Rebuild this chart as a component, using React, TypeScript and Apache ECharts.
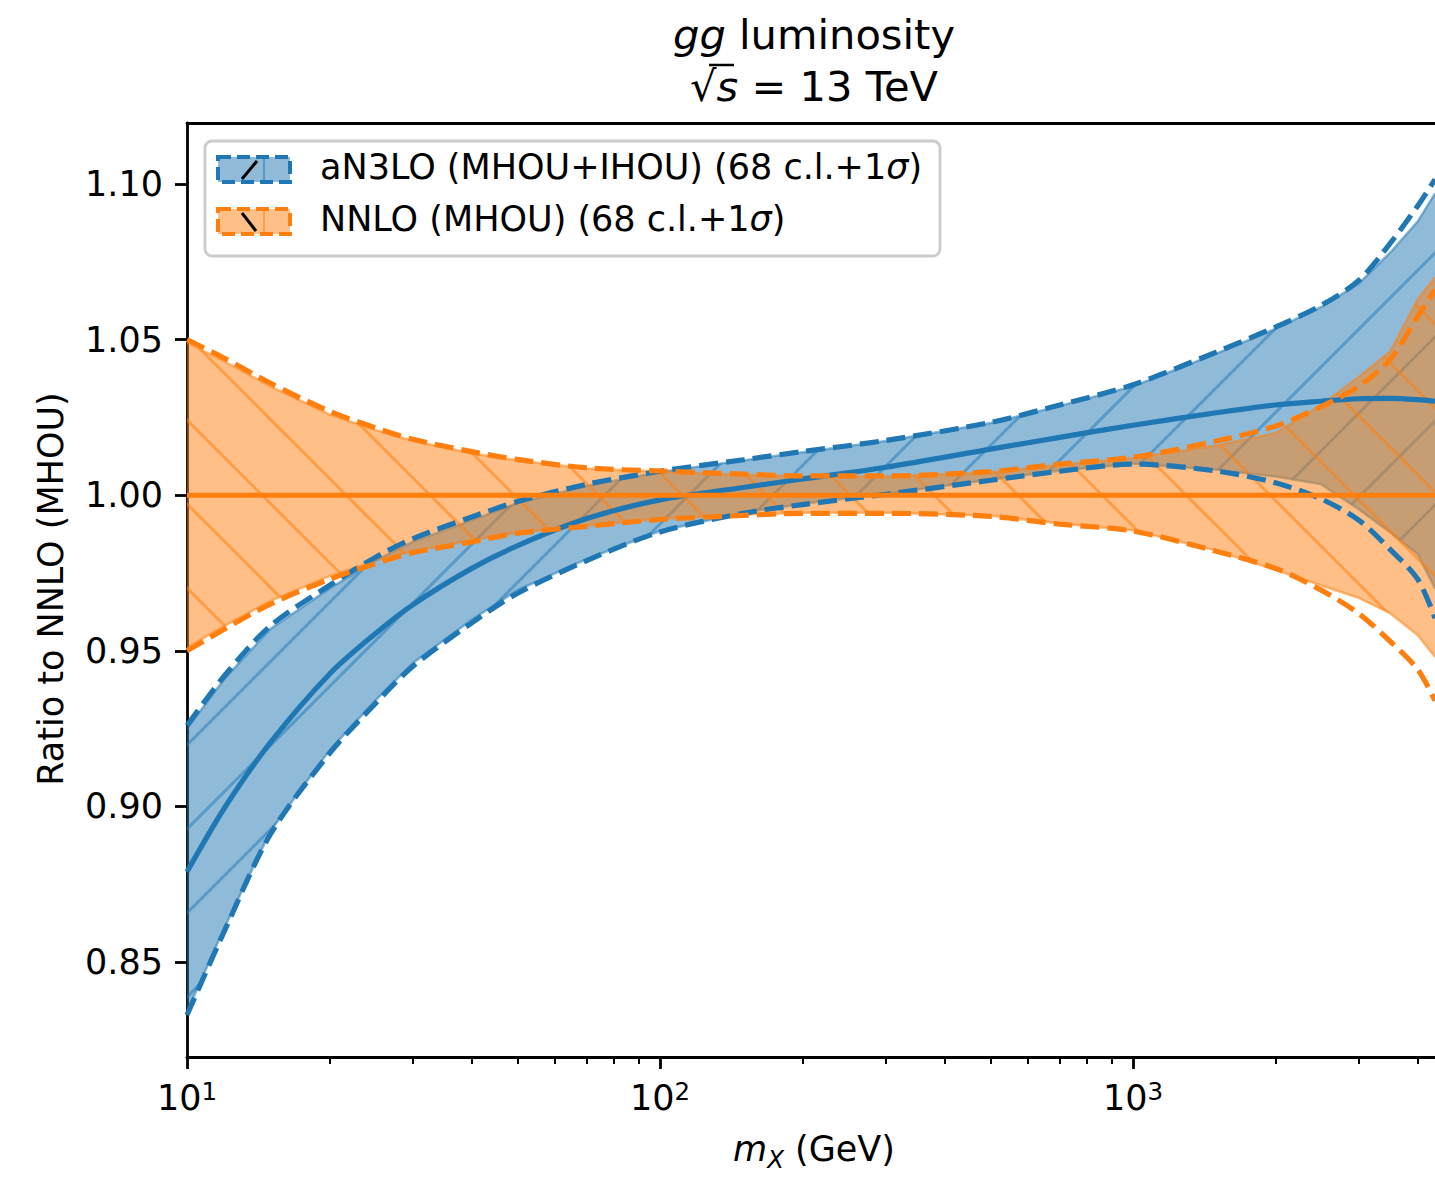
import React, { useEffect, useRef } from "react";
import * as echarts from "echarts";

const FONT = "DejaVu Sans";
const BLUE = "#1f77b4";
const ORANGE = "#ff7f0e";

// ---- data ----
const massGeV = [10, 12, 15, 20, 25, 30, 40, 50, 70, 100, 150, 200, 300, 500, 700, 1000, 1500, 2000, 2500, 3000, 3500, 4000, 4350];

const an3loCentral = [0.879, 0.8995, 0.9205, 0.9425, 0.9555, 0.9648, 0.9765, 0.9838, 0.9925, 0.9985, 1.0025, 1.0052, 1.009, 1.0148, 1.0186, 1.0225, 1.0265, 1.029, 1.0302, 1.031, 1.0311, 1.0307, 1.0302];
const an3loUpper = [0.926, 0.942, 0.958, 0.971, 0.98, 0.986, 0.993, 0.998, 1.0035, 1.0077, 1.0114, 1.014, 1.0176, 1.0234, 1.029, 1.0355, 1.046, 1.054, 1.061, 1.069, 1.081, 1.093, 1.1015];
const an3loLower = [0.833, 0.86, 0.891, 0.917, 0.933, 0.945, 0.959, 0.9685, 0.979, 0.9882, 0.9942, 0.997, 1.0003, 1.0048, 1.0077, 1.01, 1.0078, 1.004, 0.9988, 0.992, 0.9825, 0.973, 0.9605];
const an3loBandUpper = [0.925, 0.941, 0.957, 0.97, 0.979, 0.985, 0.992, 0.9975, 1.003, 1.0075, 1.0112, 1.0138, 1.0174, 1.0232, 1.0287, 1.035, 1.0455, 1.0535, 1.0605, 1.068, 1.078, 1.088, 1.097];
const an3loBandLower = [0.834, 0.861, 0.892, 0.918, 0.934, 0.946, 0.96, 0.9695, 0.9795, 0.9885, 0.9944, 0.9972, 1.0005, 1.005, 1.0079, 1.0101, 1.0082, 1.006, 1.0035, 0.9955, 0.988, 0.981, 0.97];

const nnloCentral = [1, 1, 1, 1, 1, 1, 1, 1, 1, 1, 1, 1, 1, 1, 1, 1, 1, 1, 1, 1, 1, 1, 1];
const nnloUpper = [1.05, 1.044, 1.036, 1.027, 1.0217, 1.018, 1.014, 1.0115, 1.0088, 1.0078, 1.0068, 1.0062, 1.0062, 1.0076, 1.01, 1.0122, 1.0174, 1.0222, 1.0285, 1.035, 1.0437, 1.0575, 1.066];
const nnloLower = [0.95, 0.957, 0.965, 0.973, 0.978, 0.9815, 0.985, 0.9878, 0.99, 0.9922, 0.9935, 0.9942, 0.9942, 0.9932, 0.9907, 0.9885, 0.982, 0.9765, 0.9695, 0.962, 0.953, 0.944, 0.934];
const nnloBandUpper = [1.049, 1.043, 1.035, 1.026, 1.021, 1.0175, 1.0135, 1.0112, 1.0086, 1.0076, 1.0066, 1.006, 1.006, 1.0074, 1.0098, 1.012, 1.016, 1.02, 1.029, 1.038, 1.0463, 1.063, 1.07];
const nnloBandLower = [0.951, 0.958, 0.966, 0.974, 0.979, 0.982, 0.9855, 0.988, 0.9902, 0.9924, 0.9937, 0.9944, 0.9944, 0.9934, 0.9909, 0.9887, 0.9822, 0.976, 0.971, 0.967, 0.962, 0.955, 0.948];

const xMajorTicks = [10, 100, 1000];
const xMinorTicks = [20, 30, 40, 50, 60, 70, 80, 90, 200, 300, 400, 500, 600, 700, 800, 900, 2000, 3000, 4000];
const yTicks = [0.85, 0.9, 0.95, 1.0, 1.05, 1.1];

const legendLabels = ["aN3LO (MHOU+IHOU) (68 c.l.+1{i|σ})", "NNLO (MHOU) (68 c.l.+1{i|σ})"];

const X_MIN = 10;
const X_MAX = 4350;
const Y_MIN = 0.8195;
const Y_MAX = 1.1196;
const HATCH_STEP = 84;

function makeHatch(dir: "fwd" | "back", color: string, phase: number): string {
  const s = HATCH_STEP;
  const cv = document.createElement("canvas");
  cv.width = s;
  cv.height = s;
  const ctx = cv.getContext("2d");
  if (!ctx) return "";
  ctx.strokeStyle = color;
  ctx.lineWidth = 3;
  for (let k = -3; k <= 3; k++) {
    const c = phase + k * s;
    ctx.beginPath();
    if (dir === "fwd") {
      ctx.moveTo(c + s, -s);
      ctx.lineTo(c - 2 * s, 2 * s);
    } else {
      ctx.moveTo(-s, c - s);
      ctx.lineTo(2 * s, c + 2 * s);
    }
    ctx.stroke();
  }
  return cv.toDataURL();
}

function bandSeries(name: string, lo: number[], hi: number[], fill: string, edge: string, pattern: any, z: number) {
  return {
    type: "custom",
    name,
    coordinateSystem: "cartesian2d",
    xAxisIndex: 0,
    yAxisIndex: 0,
    clip: true,
    silent: true,
    z,
    data: massGeV.map((x, i) => [x, lo[i], hi[i]]),
    encode: { x: 0, y: [1, 2] },
    renderItem: (params: any, api: any) => {
      if (params.dataIndex !== 0) return null;
      const up = massGeV.map((x, i) => api.coord([x, hi[i]]));
      const dn = massGeV.map((x, i) => api.coord([x, lo[i]]));
      const poly = up.concat(dn.slice().reverse());
      return {
        type: "group",
        children: [
          { type: "polygon", shape: { points: poly }, style: { fill, stroke: null } },
          { type: "polygon", shape: { points: poly }, style: { fill: pattern, stroke: null } },
          { type: "polyline", shape: { points: up }, style: { stroke: edge, lineWidth: 2.5, fill: null } },
          { type: "polyline", shape: { points: dn }, style: { stroke: edge, lineWidth: 2.5, fill: null } },
        ],
      };
    },
  };
}

function lineSeries(name: string, ys: number[], color: string, dashed: boolean, z: number) {
  return {
    type: "line",
    name,
    data: massGeV.map((x, i) => [x, ys[i]]),
    showSymbol: false,
    symbol: "none",
    smooth: 0.3,
    clip: true,
    silent: true,
    z,
    lineStyle: { color, width: 5.2, type: dashed ? [19, 8] : "solid", cap: "butt" },
    emphasis: { disabled: true },
  };
}

export default function App() {
  const ref = useRef<HTMLDivElement>(null);
  useEffect(() => {
    if (!ref.current) return;
    const chart = echarts.init(ref.current, null, { renderer: "svg" });

    const blueHatch = {
      image: makeHatch("fwd", "rgba(31,119,180,0.5)", 8),
      repeat: "repeat",
      imageWidth: HATCH_STEP,
      imageHeight: HATCH_STEP,
    };
    const orangeHatch = {
      image: makeHatch("back", "rgba(255,127,14,0.55)", 65),
      repeat: "repeat",
      imageWidth: HATCH_STEP,
      imageHeight: HATCH_STEP,
    };

    const axisLineStyle = { color: "#000", width: 2.8 };
    const logAxisBase = { type: "log", logBase: 10, min: X_MIN, max: X_MAX, gridIndex: 0 };

    const txt = (extra: any) => ({ fontFamily: FONT, fill: "#000", ...extra });

    const option: any = {
      animation: false,
      backgroundColor: "#fff",
      textStyle: { fontFamily: FONT },
      grid: { left: 187, top: 123, right: 0, bottom: 121, containLabel: false, outerBoundsMode: "none", show: false },
      xAxis: [
        {
          ...logAxisBase,
          position: "bottom",
          axisLine: { show: true, onZero: false, lineStyle: axisLineStyle },
          axisTick: { show: true, inside: false, length: 12, customValues: xMajorTicks, lineStyle: axisLineStyle },
          axisLabel: {
            show: true,
            customValues: xMajorTicks,
            margin: 22,
            formatter: (v: number) => `{b|10}{s|${Math.round(Math.log10(v))}}`,
            rich: {
              b: { fontSize: 35, fontFamily: FONT, color: "#000" },
              s: { fontSize: 24.5, fontFamily: FONT, color: "#000", padding: [0, 0, 12, 0] },
            },
          },
          splitLine: { show: false },
          minorTick: { show: false },
          minorSplitLine: { show: false },
        },
        {
          ...logAxisBase,
          position: "top",
          axisLine: { show: true, onZero: false, lineStyle: axisLineStyle },
          axisTick: { show: false },
          axisLabel: { show: false },
          splitLine: { show: false },
        },
        {
          ...logAxisBase,
          position: "bottom",
          axisLine: { show: false, onZero: false },
          axisTick: { show: true, inside: false, length: 7, customValues: xMinorTicks, lineStyle: { color: "#000", width: 2 } },
          axisLabel: { show: false },
          splitLine: { show: false },
        },
      ],
      yAxis: {
        type: "value",
        min: Y_MIN,
        max: Y_MAX,
        position: "left",
        axisLine: { show: true, onZero: false, lineStyle: axisLineStyle },
        axisTick: { show: true, inside: false, length: 12, customValues: yTicks, lineStyle: axisLineStyle },
        axisLabel: {
          customValues: yTicks,
          formatter: (v: number) => v.toFixed(2),
          fontSize: 35,
          fontFamily: FONT,
          color: "#000",
          margin: 24,
        },
        splitLine: { show: false },
      },
      series: [
        bandSeries("aN3LO band", an3loBandLower, an3loBandUpper, "rgba(31,119,180,0.5)", "rgba(31,119,180,0.5)", blueHatch, 2),
        bandSeries("NNLO band", nnloBandLower, nnloBandUpper, "rgba(255,127,14,0.5)", "rgba(255,127,14,0.5)", orangeHatch, 3),
        lineSeries("aN3LO upper", an3loUpper, BLUE, true, 5),
        lineSeries("aN3LO lower", an3loLower, BLUE, true, 5),
        lineSeries("aN3LO central", an3loCentral, BLUE, false, 5),
        lineSeries("NNLO upper", nnloUpper, ORANGE, true, 6),
        lineSeries("NNLO lower", nnloLower, ORANGE, true, 6),
        lineSeries("NNLO central", nnloCentral, ORANGE, false, 6),
      ],
      graphic: [
        // title
        {
          type: "text",
          x: 814,
          y: 34,
          z: 100,
          style: txt({
            text: "{i|gg} luminosity",
            fontSize: 41.6,
            align: "center",
            verticalAlign: "middle",
            rich: { i: { fontStyle: "italic", fontSize: 41.6, fontFamily: FONT } },
          }),
        },
        {
          type: "text",
          x: 814,
          y: 86,
          z: 100,
          style: txt({
            text: "√{i|s} = 13 TeV",
            fontSize: 41.6,
            align: "center",
            verticalAlign: "middle",
            rich: { i: { fontStyle: "italic", fontSize: 41.6, fontFamily: FONT } },
          }),
        },
        { type: "line", z: 100, shape: { x1: 709, y1: 65, x2: 734, y2: 65 }, style: { stroke: "#000", lineWidth: 2.5 } },
        // axis names
        {
          type: "text",
          x: 51,
          y: 589,
          rotation: Math.PI / 2,
          z: 100,
          style: txt({ text: "Ratio to NNLO (MHOU)", fontSize: 35, align: "center", verticalAlign: "middle" }),
        },
        {
          type: "text",
          x: 814,
          y: 1149,
          z: 100,
          style: txt({
            text: "{i|m}{sub|X} (GeV)",
            fontSize: 35,
            align: "center",
            verticalAlign: "middle",
            rich: {
              i: { fontStyle: "italic", fontSize: 35, fontFamily: FONT },
              sub: { fontStyle: "italic", fontSize: 24.5, fontFamily: FONT, padding: [21, 0, 0, 0] },
            },
          }),
        },
        // legend
        {
          type: "rect",
          z: 100,
          shape: { x: 205, y: 141, width: 735, height: 115, r: 7 },
          style: { fill: "rgba(255,255,255,0.8)", stroke: "#cccccc", lineWidth: 2.8 },
        },
        { type: "rect", z: 101, shape: { x: 218, y: 157, width: 72, height: 25 }, style: { fill: "rgba(31,119,180,0.5)", stroke: BLUE, lineWidth: 4, lineDash: [13, 6] } },
        { type: "line", z: 102, shape: { x1: 264, y1: 159, x2: 264, y2: 180 }, style: { stroke: "rgba(31,119,180,0.5)", lineWidth: 2 } },
        { type: "line", z: 102, shape: { x1: 242, y1: 179, x2: 257, y2: 161 }, style: { stroke: "#000", lineWidth: 3 } },
        { type: "rect", z: 101, shape: { x: 218, y: 209, width: 72, height: 25 }, style: { fill: "rgba(255,127,14,0.5)", stroke: ORANGE, lineWidth: 4, lineDash: [13, 6] } },
        { type: "line", z: 102, shape: { x1: 264, y1: 211, x2: 264, y2: 232 }, style: { stroke: "rgba(255,127,14,0.5)", lineWidth: 2 } },
        { type: "line", z: 102, shape: { x1: 242, y1: 213, x2: 256, y2: 231 }, style: { stroke: "#000", lineWidth: 3 } },
        {
          type: "text",
          x: 320,
          y: 167,
          z: 102,
          style: txt({
            text: legendLabels[0],
            fontSize: 35,
            align: "left",
            verticalAlign: "middle",
            rich: { i: { fontStyle: "italic", fontSize: 35, fontFamily: FONT } },
          }),
        },
        {
          type: "text",
          x: 320,
          y: 219,
          z: 102,
          style: txt({
            text: legendLabels[1],
            fontSize: 35,
            align: "left",
            verticalAlign: "middle",
            rich: { i: { fontStyle: "italic", fontSize: 35, fontFamily: FONT } },
          }),
        },
      ],
    };

    chart.setOption(option);
    return () => chart.dispose();
  }, []);

  return (
    <div
      ref={ref}
      style={{ position: "fixed", left: 0, top: 0, width: 1435, height: 1178, background: "#fff" }}
    />
  );
}
